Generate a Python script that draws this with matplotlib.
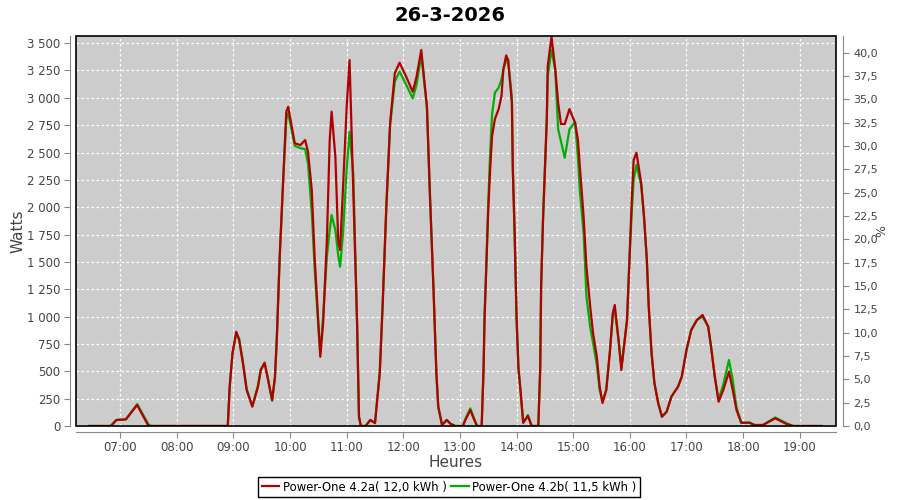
import numpy as np
import matplotlib
matplotlib.use('Agg')
import matplotlib.pyplot as plt
from matplotlib.patches import Rectangle
from matplotlib.ticker import FuncFormatter, MultipleLocator

# data
times = ['06:27', '06:50', '06:56', '07:06', '07:18', '07:30', '07:33', '08:54', '08:56', '08:59',
         '09:03', '09:06', '09:10', '09:14', '09:20', '09:26', '09:29',
         '09:33', '09:36', '09:41', '09:44', '09:46', '09:49', '09:53', '09:56', '09:58', '10:05', '10:11',
         '10:16', '10:19', '10:23', '10:26', '10:30', '10:32', '10:35', '10:39', '10:42', '10:44',
         '10:48', '10:51', '10:53', '10:56', '11:00', '11:03', '11:07', '11:11', '11:13', '11:15',
         '11:20', '11:25', '11:30', '11:35', '11:38', '11:42', '11:46', '11:51', '11:56', '12:03',
         '12:10', '12:14', '12:19', '12:25', '12:28', '12:32', '12:35', '12:37', '12:41', '12:46',
         '12:50', '12:55', '13:03', '13:06', '13:11', '13:14', '13:18', '13:23', '13:25', '13:26',
         '13:28', '13:30', '13:32', '13:34', '13:37', '13:41', '13:44', '13:46', '13:49', '13:51',
         '13:55', '13:56', '13:58', '14:00', '14:02', '14:04', '14:07', '14:12', '14:16', '14:23',
         '14:25', '14:26', '14:28', '14:30', '14:32', '14:33', '14:37', '14:41', '14:44', '14:47',
         '14:51', '14:56', '15:02', '15:05', '15:07', '15:11', '15:14', '15:18', '15:21', '15:25',
         '15:28', '15:31', '15:35', '15:39', '15:42', '15:44', '15:48', '15:51', '15:57', '16:00',
         '16:02', '16:04', '16:07', '16:12', '16:15', '16:18', '16:20', '16:23', '16:26', '16:30',
         '16:34', '16:39', '16:44', '16:51', '16:55', '17:00', '17:05', '17:11', '17:17', '17:23',
         '17:26', '17:30', '17:34', '17:39', '17:45', '17:49', '17:53', '17:58', '18:07', '18:12',
         '18:21', '18:34', '18:46', '18:53', '19:23']

power_a = [0, 0, 55, 60, 192, 0, 0, 0, 359, 667,
           862, 786, 576, 329, 177, 359, 512,
           579, 451, 238, 450, 816, 1547, 2310, 2873, 2918, 2584, 2568,
           2614, 2507, 2157, 1547, 939, 633, 939, 1700, 2614, 2873,
           2461, 1700, 1609, 2157, 2918, 3345, 2157, 939, 85, 0,
           0, 55, 27, 484, 1088, 2005, 2770, 3226, 3321, 3193,
           3056, 3193, 3437, 2918, 2157, 1243, 484, 177, 9, 55,
           20, 0, 0, 60, 146, 80, 0, 0, 521, 978,
           1493, 1983, 2349, 2650, 2806, 2897, 3016, 3263, 3388, 3340,
           2955, 2349, 1737, 978, 521, 338, 30, 91, 0, 0,
           521, 1280, 1889, 2349, 2806, 3290, 3558, 3260, 2955, 2760,
           2760, 2897, 2770, 2614, 2370, 1913, 1456, 1090, 850, 633,
           359, 210, 329, 695, 1033, 1106, 786, 512, 969, 1609,
           2066, 2431, 2498, 2221, 1913, 1517, 1090, 667, 393, 210,
           85, 131, 268, 359, 451, 695, 877, 969, 1015, 908,
           725, 451, 222, 329, 496, 329, 146, 30, 30, 9,
           9, 70, 18, 0, 0]

power_b = [0, 0, 55, 60, 200, 15, 0, 0, 350, 660,
           850, 800, 590, 340, 180, 370, 520,
           570, 460, 230, 440, 800, 1540, 2300, 2800, 2860, 2560, 2540,
           2530, 2400, 1950, 1450, 900, 667, 999, 1547, 1791, 1928,
           1791, 1560, 1456, 1750, 2350, 2690, 2300, 939, 85, 0,
           0, 55, 27, 484, 1088, 2005, 2750, 3150, 3240, 3120,
           2995, 3120, 3391, 2918, 2157, 1243, 484, 177, 9, 55,
           20, 0, 0, 70, 161, 90, 0, 0, 521, 978,
           1493, 2050, 2500, 2850, 3047, 3092, 3169, 3260, 3340, 3352,
           3000, 2349, 1737, 978, 521, 338, 30, 100, 0, 0,
           521, 1280, 1889, 2349, 2806, 3200, 3437, 3250, 2714, 2600,
           2452, 2712, 2780, 2450, 2150, 1764, 1182, 900, 760, 560,
           330, 230, 329, 695, 1033, 1060, 786, 540, 969, 1609,
           1950, 2250, 2386, 2200, 1913, 1517, 1090, 667, 393, 210,
           85, 131, 268, 359, 451, 695, 877, 969, 1000, 908,
           725, 451, 240, 380, 603, 420, 170, 30, 30, 9,
           9, 78, 25, 0, 0]

hour_ticks = list(range(7, 20))
title = '26-3-2026'
label_a = 'Power-One 4.2a( 12,0 kWh )'
label_b = 'Power-One 4.2b( 11,5 kWh )'


def to_hours(t):
    h, m = t.split(':')
    return int(h) + int(m) / 60


x = np.array([to_hours(t) for t in times])

fig = plt.figure(figsize=(9, 5), dpi=100)
ax = fig.add_axes([76 / 900, 1 - 426 / 500, 760 / 900, 390 / 500])
ax.set_facecolor('#cccccc')

line_b, = ax.plot(x, power_b, color='#00b000', lw=1.6, zorder=3)
line_a, = ax.plot(x, power_a, color='#b00000', lw=1.6, zorder=4)

ax.set_xlim(6.22, 19.64)
ax.set_ylim(0, 3565)
ax.yaxis.set_major_locator(MultipleLocator(250))
ax.yaxis.set_major_formatter(FuncFormatter(lambda v, p: f'{int(v):,}'.replace(',', ' ')))
ax.set_xticks(hour_ticks)
ax.set_xticklabels([f'{h:02d}:00' for h in hour_ticks])
ax.grid(True, color='white', ls=(0, (2, 2)), lw=0.9)
ax.set_axisbelow(True)

gray = '#888888'
for side in ['left', 'bottom']:
    ax.spines[side].set_position(('outward', 4))
    ax.spines[side].set_color(gray)
for side in ['top', 'right']:
    ax.spines[side].set_visible(False)
ax.tick_params(colors=gray, labelcolor='#444444', labelsize=8.5, length=4, pad=3)
ax.set_ylabel('Watts', fontsize=11, color='#444444')
ax.yaxis.set_label_coords(-0.066, 0.5)
ax.set_xlabel('Heures', fontsize=11, color='#444444')
ax.xaxis.set_label_coords(0.5, -0.074)
ax.add_patch(Rectangle((0, 0), 1, 1, transform=ax.transAxes, fill=False,
                       ec='black', lw=1.2, zorder=5, clip_on=False))

ax2 = ax.twinx()
ax2.set_ylim(0, 41.8)
ax2.yaxis.set_major_locator(MultipleLocator(2.5))
ax2.yaxis.set_major_formatter(FuncFormatter(lambda v, p: f'{v:.1f}'.replace('.', ',')))
for side in ['left', 'top', 'bottom']:
    ax2.spines[side].set_visible(False)
ax2.spines['right'].set_position(('outward', 5))
ax2.spines['right'].set_color(gray)
ax2.tick_params(colors=gray, labelcolor='#444444', labelsize=8, length=4)
ax2.set_ylabel('%', fontsize=9, color='#444444')
ax2.yaxis.set_label_coords(1.051, 0.5)

fig.suptitle(title, fontsize=14, fontweight='bold', y=0.988)

leg = fig.legend([line_a, line_b], [label_a, label_b], loc='center',
                 bbox_to_anchor=(0.499, 0.026), ncol=2, fontsize=8.4,
                 fancybox=False, framealpha=1, edgecolor='black',
                 handlelength=1.5, handletextpad=0.3, columnspacing=0.4,
                 borderpad=0.3)
leg.get_frame().set_linewidth(1.0)

fig.savefig('out.png', dpi=100)
